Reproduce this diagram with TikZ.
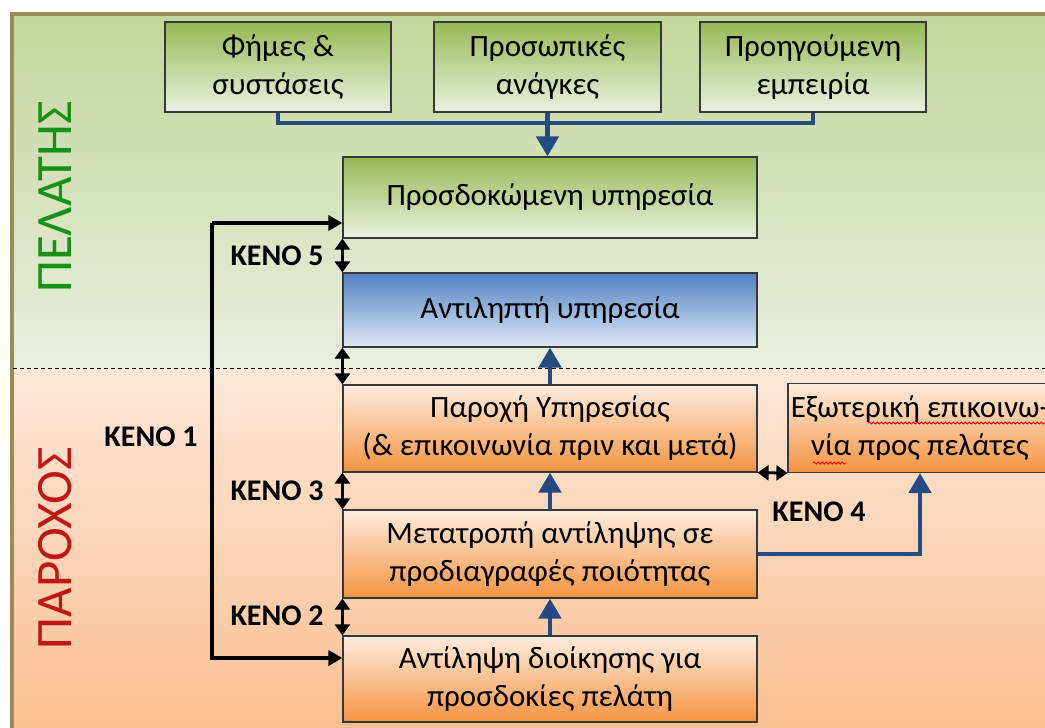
\documentclass[tikz,border=0pt]{standalone}
\usepackage{fontspec}
\setmainfont{Carlito}
\usetikzlibrary{arrows.meta,decorations.pathmorphing}

\definecolor{bandtop}{RGB}{196,214,155}
\definecolor{bandmid}{RGB}{233,238,222}
\definecolor{peachtop}{RGB}{252,231,216}
\definecolor{peachbot}{RGB}{250,193,148}
\definecolor{frame}{RGB}{150,140,86}
\definecolor{greentop}{RGB}{150,185,85}
\definecolor{greenmid}{RGB}{212,226,186}
\definecolor{greenbot}{RGB}{236,241,224}
\definecolor{bluetop}{RGB}{80,130,195}
\definecolor{bluemid}{RGB}{196,212,235}
\definecolor{bluebot}{RGB}{222,231,244}
\definecolor{orangetop}{RGB}{253,236,222}
\definecolor{orangemid}{RGB}{251,206,170}
\definecolor{orangebot}{RGB}{245,148,66}
\definecolor{flowblue}{RGB}{36,74,130}
\definecolor{boxline}{RGB}{55,55,55}
\definecolor{pelatis}{RGB}{22,145,22}
\definecolor{paroxos}{RGB}{192,22,22}

\begin{document}
\begin{tikzpicture}[x=0.5pt, y=-0.5pt]
	\tikzstyle{every node}=[align=center, inner sep=1pt, font=\fontsize{15.5}{19}\selectfont]
	\tikzstyle{greenbox}=[draw=boxline, line width=0.6pt, top color=greentop, middle color=greenmid, bottom color=greenbot]
	\tikzstyle{bluebox}=[draw=boxline, line width=0.6pt, top color=bluetop, middle color=bluemid, bottom color=bluebot]
	\tikzstyle{orangebox}=[draw=boxline, line width=0.6pt, top color=orangetop, middle color=orangemid, bottom color=orangebot]
	\tikzstyle{flowline}=[draw=flowblue, line width=2.4pt]
	\tikzstyle{flow}=[flowline, -{Triangle[width=11pt,length=10pt]}]
	\tikzstyle{gap}=[line width=1.4pt, {Triangle[width=7.5pt,length=5.5pt]}-{Triangle[width=7.5pt,length=5.5pt]}]
	\tikzstyle{kline}=[line width=2pt, -{Triangle[width=7.5pt,length=7pt]}]
	\tikzstyle{gaplabel}=[font=\fontsize{15}{19}\selectfont\bfseries]

	\useasboundingbox (0,0) rectangle (1045,728);
	\shade[top color=bandtop, bottom color=bandmid] (11,13) rectangle (1045,368);
	\shade[top color=peachtop, bottom color=peachbot] (11,368) rectangle (1045,728);
	\draw[frame, line width=2pt] (11.5,728) -- (11.5,13.5) -- (1045,13.5);
	\draw[line width=0.5pt, dash pattern=on 2pt off 1.5pt] (13,368) -- (1045,368);

	\node[rotate=90, text=pelatis, font=\fontsize{25.5}{28}\selectfont] (pelatis) at (55,197) {ΠΕΛΑΤΗΣ};
	\node[rotate=90, text=paroxos, font=\fontsize{25.5}{28}\selectfont] (paroxos) at (55,548) {ΠΑΡΟΧΟΣ};

	\node[greenbox, minimum width=113pt, minimum height=45pt] (fimes) at (278,67) {Φήμες \&\\ συστάσεις};
	\node[greenbox, minimum width=113.5pt, minimum height=45pt] (anagkes) at (547.5,67) {Προσωπικές\\ ανάγκες};
	\node[greenbox, minimum width=113pt, minimum height=45pt] (empeiria) at (813,67) {Προηγούμενη\\ εμπειρία};
	\node[greenbox, minimum width=207pt, minimum height=40.5pt] (prosdok) at (550,197.5) {Προσδοκώμενη υπηρεσία};
	\node[bluebox, minimum width=207pt, minimum height=37pt] (antil) at (550,310) {Αντιληπτή υπηρεσία};
	\node[orangebox, minimum width=207pt, minimum height=43.5pt] (paroxi) at (550,428.5) {Παροχή Υπηρεσίας\\ (\& επικοινωνία πριν και μετά)};
	\node[orangebox, minimum width=207pt, minimum height=44pt] (metatr) at (550,554) {Μετατροπή αντίληψης σε\\ προδιαγραφές ποιότητας};
	\node[orangebox, minimum width=207pt, minimum height=43pt] (dioik) at (550,679) {Αντίληψη διοίκησης για\\ προσδοκίες πελάτη};
	\node[orangebox, minimum width=132pt, minimum height=44.5pt] (exot) at (920,428) {Εξωτερική επικοινω-\\ νία προς πελάτες};
	\draw[red, line width=0.4pt, decorate, decoration={snake, amplitude=0.5pt, segment length=2pt}] (868,423) -- (1045,423);
	\draw[red, line width=0.4pt, decorate, decoration={snake, amplitude=0.5pt, segment length=2pt}] (813,463) -- (846,463);

	\node[gaplabel, anchor=east] (keno5) at (326,256) {ΚΕΝΟ 5};
	\node[gaplabel, anchor=east] (keno3) at (326,491) {ΚΕΝΟ 3};
	\node[gaplabel, anchor=east] (keno2) at (326,616) {ΚΕΝΟ 2};
	\node[gaplabel] (keno1) at (151,437) {ΚΕΝΟ 1};
	\node[gaplabel] (keno4) at (819,512) {ΚΕΝΟ 4};

	\coordinate (bus) at (547.5,123);
	\coordinate (ktop) at (212,223);
	\coordinate (kbot) at (212,658);

	\draw[flowline] (fimes.south) |- (bus) -| (empeiria.south);
	\draw[flow] (anagkes.south) -- (anagkes.south |- prosdok.north);
	\draw[flow] (paroxi.north) -- (antil.south);
	\draw[flow] (metatr.north) -- (paroxi.south);
	\draw[flow] (dioik.north) -- (metatr.south);
	\draw[flow] (metatr.east) -| (exot.south);

	\draw[gap] (prosdok.south west) -- (antil.north west);
	\draw[gap] (antil.south west) -- (paroxi.north west);
	\draw[gap] (paroxi.south west) -- (metatr.north west);
	\draw[gap] (metatr.south west) -- (dioik.north west);
	\draw[gap] (paroxi.south east) -- (exot.south west);

	\draw[kline] (ktop) -- (ktop -| prosdok.west);
	\draw[kline] (ktop) -- (kbot) -- (kbot -| dioik.west);
\end{tikzpicture}
\end{document}
